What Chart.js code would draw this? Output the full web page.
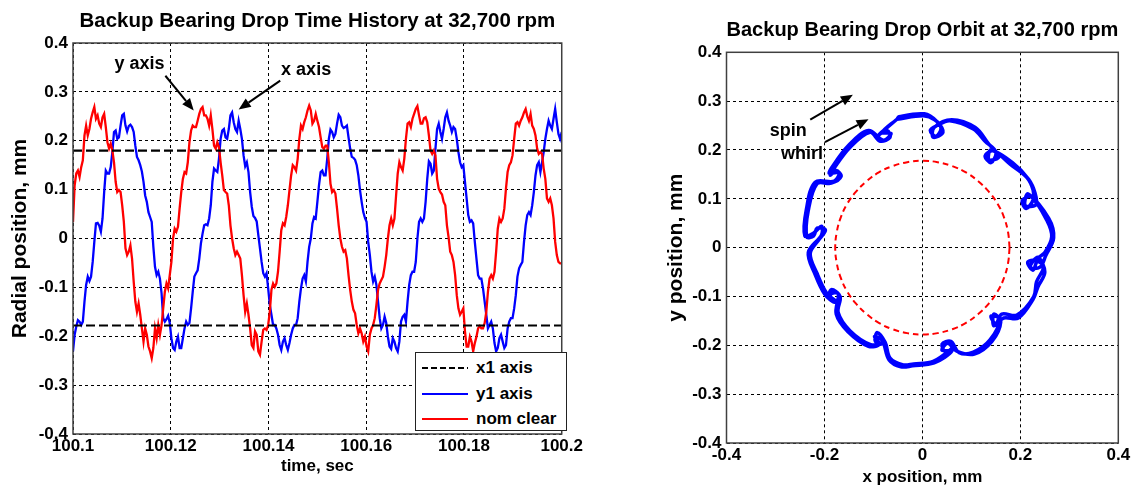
<!DOCTYPE html>
<html>
<head>
<meta charset="utf-8">
<title>Backup Bearing Drop</title>
<script src="https://cdn.jsdelivr.net/npm/chart.js@4.4.0/dist/chart.umd.min.js"></script>
<style>
  body { margin: 0; background: #fff; width: 1133px; height: 486px; overflow: hidden; position: relative;
         font-family: "Liberation Sans", Arial, sans-serif; }
  #timeChart { position: absolute; left: 0; top: 0; }
  #orbitChart { position: absolute; left: 600px; top: 0; }
  #legend { position: absolute; left: 415px; top: 352px; width: 152px; height: 79px; box-sizing: border-box;
            border: 1px solid #222; background: #fff; font-weight: bold; font-size: 17px; color: #000; }
  #legend .row { position: absolute; left: 6px; height: 20px; display: flex; align-items: center; }
  #legend svg { margin-right: 8px; }
</style>
</head>
<body>
<canvas id="timeChart" width="585" height="486"></canvas>
<canvas id="orbitChart" width="533" height="486"></canvas>
<div id="legend"></div>
<script>
// time window of the record, sec
const timeStart = 100.1;
const timeEnd = 100.2;
const timeTicks = [100.1, 100.12, 100.14, 100.16, 100.18, 100.2];
const radialTicks = [-0.4, -0.3, -0.2, -0.1, 0, 0.1, 0.2, 0.3, 0.4];
const orbitXTicks = [-0.4, -0.2, 0, 0.2, 0.4];

// nominal clearance, mm
const clearTop = 0.18;
const clearBottom = -0.178;

// x-axis probe (blue), mm, evenly sampled over the window
const xProbe = [
  -0.231,-0.197,-0.180,-0.167,-0.170,-0.177,-0.170,-0.129,-0.095,-0.078,
  -0.087,-0.078,-0.048,-0.007,0.031,0.032,0.026,0.014,0.041,0.095,
  0.139,0.133,0.133,0.146,0.177,0.218,0.221,0.204,0.207,0.231,
  0.252,0.255,0.231,0.219,0.230,0.233,0.228,0.218,0.190,0.167,
  0.160,0.150,0.137,0.116,0.088,0.075,0.054,0.044,0.034,-0.017,
  -0.058,-0.075,-0.068,-0.082,-0.112,-0.163,-0.170,-0.165,-0.158,-0.173,
  -0.204,-0.224,-0.228,-0.211,-0.201,-0.224,-0.224,-0.204,-0.184,-0.170,
  -0.177,-0.173,-0.143,-0.109,-0.078,-0.071,-0.065,-0.041,-0.010,0.010,
  0.027,0.029,0.027,0.041,0.068,0.116,0.143,0.139,0.136,0.163,
  0.204,0.221,0.224,0.207,0.204,0.224,0.252,0.258,0.238,0.224,
  0.218,
  0.241,0.224,0.204,0.170,0.148,0.156,0.136,0.095,0.065,0.046,
  0.042,0.035,0.007,-0.020,-0.048,-0.071,-0.078,-0.071,-0.102,-0.136,
  -0.156,-0.177,-0.177,-0.184,-0.197,-0.218,-0.228,-0.211,-0.204,-0.218,
  -0.228,-0.214,-0.197,-0.184,-0.177,-0.177,-0.163,-0.129,-0.102,-0.082,
  -0.075,-0.088,-0.048,-0.017,0.000,0.031,0.044,0.041,0.075,0.109,
  0.136,0.139,0.129,0.129,0.163,0.204,0.223,0.218,0.207,0.214,
  0.235,0.253,0.248,0.231,0.226,0.228,0.231,0.207,0.184,0.167,
  0.165,0.161,0.150,0.129,0.099,0.075,0.054,0.042,0.034,-0.007,
  -0.034,-0.068,-0.088,-0.078,-0.095,-0.129,-0.163,-0.184,-0.177,-0.160,
  -0.173,-0.201,-0.221,-0.226,-0.204,-0.211,-0.224,-0.231,-0.211,
  -0.170,-0.160,-0.156,-0.170,-0.129,-0.095,-0.075,-0.068,-0.068,-0.048,
  0.000,0.034,0.041,0.034,0.041,0.075,0.122,0.158,0.153,0.133,
  0.139,0.184,0.224,0.235,0.218,0.204,0.224,0.248,0.258,0.241,
  0.231,0.218,0.228,0.224,0.204,0.177,0.156,0.146,0.150,0.116,
  0.082,0.048,0.034,0.037,0.031,-0.007,-0.041,-0.075,-0.082,-0.082,
  -0.102,-0.129,-0.156,-0.184,-0.177,-0.170,-0.184,-0.214,-0.231,-0.224,
  -0.204,-0.197,-0.211,-0.224,-0.218,-0.184,-0.170,-0.163,-0.163,-0.143,
  -0.116,-0.078,-0.061,-0.054,-0.048,-0.007,0.027,0.048,0.054,0.048,
  0.068,0.095,0.129,0.150,0.156,0.136,0.156,0.177,0.204,0.224,
  0.241,0.231,0.224,0.245,0.265,0.238,0.214,0.204,0.218
];

// y-axis probe (red), mm, same samples
const yProbe = [
  0.034,0.109,0.133,0.139,0.126,0.146,0.160,0.211,0.231,0.211,
  0.224,0.245,0.258,0.269,0.245,0.252,0.235,0.228,0.248,0.255,
  0.228,0.197,0.184,0.194,0.180,0.156,0.116,0.095,0.099,0.095,
  0.068,0.034,-0.020,-0.034,-0.027,-0.014,-0.041,-0.088,-0.129,-0.150,
  -0.133,-0.156,-0.184,-0.211,-0.184,-0.197,-0.221,-0.231,-0.245,-0.224,
  -0.184,-0.204,-0.177,-0.197,-0.177,-0.143,-0.109,-0.092,-0.102,-0.075,
  -0.048,0.000,0.020,0.014,0.024,0.061,0.095,0.122,0.136,0.133,
  0.156,0.197,0.221,0.231,0.228,0.228,0.241,0.255,0.265,0.269,
  0.252,0.252,0.245,0.231,0.252,0.224,0.190,0.184,0.197,0.187,
  0.156,0.129,0.099,0.095,0.092,0.068,0.027,0.000,-0.020,-0.034,
  -0.027,
  -0.034,-0.041,-0.075,-0.116,-0.150,-0.133,-0.156,-0.184,-0.218,-0.224,
  -0.190,-0.197,-0.231,-0.238,-0.211,-0.187,-0.184,-0.187,-0.177,-0.150,
  -0.105,-0.092,-0.099,-0.092,-0.068,-0.027,0.017,0.031,0.027,0.044,
  0.068,0.099,0.129,0.150,0.146,0.139,0.163,0.204,0.231,0.224,
  0.238,0.248,0.262,0.272,0.262,0.235,0.241,0.255,0.241,0.228,
  0.207,0.187,0.184,0.190,0.190,0.156,0.112,0.095,0.099,0.092,
  0.061,0.027,0.000,-0.017,-0.027,-0.024,-0.041,-0.075,-0.105,-0.129,
  -0.146,-0.153,-0.177,-0.194,-0.184,-0.194,-0.211,-0.201,-0.221,-0.231,
  -0.197,-0.184,-0.177,-0.163,-0.136,-0.105,-0.092,-0.085,-0.078,-0.058,
  -0.034,0.000,0.027,0.041,0.027,0.041,0.088,0.133,0.156,
  0.146,0.139,0.163,0.204,0.235,0.238,0.228,0.245,0.255,0.265,
  0.271,0.252,0.235,0.235,0.246,0.248,0.238,0.211,0.180,0.173,
  0.180,0.170,0.122,0.102,0.095,0.090,0.075,0.068,0.027,0.003,
  -0.027,-0.034,-0.048,-0.075,-0.116,-0.143,-0.156,-0.150,-0.143,-0.190,
  -0.221,-0.221,-0.201,-0.211,-0.231,-0.214,-0.201,-0.184,-0.179,-0.184,
  -0.184,-0.173,-0.150,-0.109,-0.082,-0.075,-0.082,-0.068,-0.027,0.020,
  0.041,0.034,0.041,0.061,0.102,0.136,0.150,0.156,0.170,0.204,
  0.235,0.238,0.231,0.241,0.248,0.258,0.265,0.250,0.241,0.255,
  0.231,0.224,0.211,0.184,0.173,0.177,0.173,0.143,0.122,0.082,
  0.075,0.082,0.068,0.041,-0.007,-0.034,-0.048,-0.051,-0.051
];

// orbit, two turns, clockwise, mm
const orbitX = [
  -0.052,0.002,0.025,0.038,0.028,0.016,0.030,0.056,0.104,0.128,
  0.150,0.140,0.128,0.145,0.179,0.213,0.226,0.226,0.212,0.204,
  0.222,0.254,0.264,0.250,0.236,0.226,0.215,0.232,0.247,0.233,
  0.227,0.193,0.162,0.150,0.140,0.158,0.138,0.104,0.075,0.058,
  0.040,0.048,0.062,0.022,-0.018,-0.039,-0.066,-0.076,-0.092,-0.096,
  -0.080,-0.107,-0.148,-0.172,-0.168,-0.186,-0.190,-0.176,-0.195,-0.215,
  -0.229,-0.210,-0.198,-0.215,-0.222,-0.236,-0.233,-0.215,-0.186,-0.166,
  -0.176,-0.188,-0.182,-0.148,-0.107,-0.086,-0.066,-0.072,-0.088,-0.052,
  -0.048,0.004,0.030,0.042,0.022,0.024,0.060,0.108,0.134,0.156,
  0.136,0.140,0.184,0.217,0.230,0.232,0.210,0.216,0.258,0.268,
  0.252,0.240,0.220,0.236,0.250,0.236,0.226,0.196,0.166,0.146,
  0.146,0.160,0.142,0.106,0.070,0.052,0.040,0.060,0.024,-0.020,
  -0.044,-0.068,-0.082,-0.098,-0.088,-0.110,-0.152,-0.176,-0.172,-0.188,
  -0.180,-0.199,-0.219,-0.233,-0.206,-0.206,-0.222,-0.240,-0.237,-0.219,
  -0.180,-0.170,-0.190,-0.185,-0.151,-0.110,-0.080,-0.064,-0.082,-0.052
];
const orbitY = [
  0.263,0.270,0.262,0.245,0.228,0.240,0.250,0.260,0.243,0.218,
  0.196,0.174,0.188,0.198,0.171,0.144,0.118,0.098,0.080,0.096,
  0.104,0.056,0.022,-0.010,-0.022,-0.046,-0.030,-0.026,-0.040,-0.070,
  -0.101,-0.138,-0.136,-0.156,-0.140,-0.146,-0.189,-0.214,-0.215,-0.192,
  -0.198,-0.214,-0.205,-0.233,-0.238,-0.240,-0.226,-0.194,-0.174,-0.192,
  -0.196,-0.198,-0.170,-0.133,-0.100,-0.086,-0.104,-0.110,-0.094,-0.053,
  -0.012,0.018,0.036,0.040,0.024,0.022,0.076,0.131,0.132,0.146,
  0.158,0.148,0.160,0.205,0.236,0.218,0.226,0.240,0.232,0.263,
  0.268,0.274,0.258,0.236,0.226,0.246,0.262,0.246,0.214,0.186,
  0.180,0.200,0.174,0.140,0.112,0.088,0.086,0.110,0.060,0.020,
  -0.016,-0.040,-0.040,-0.020,-0.050,-0.080,-0.106,-0.144,-0.144,-0.160,
  -0.136,-0.152,-0.192,-0.218,-0.212,-0.196,-0.210,-0.212,-0.236,-0.242,
  -0.244,-0.230,-0.190,-0.182,-0.198,-0.202,-0.172,-0.136,-0.094,-0.096,
  -0.112,-0.096,-0.055,-0.010,0.026,0.044,0.030,0.024,0.078,0.134,
  0.136,0.154,0.152,0.164,0.209,0.240,0.220,0.234,0.236,0.263
];

// nominal clearance circle (r = 0.178 mm), every 10 degrees
const clearCircleX = [0.178,0.175,0.167,0.154,0.136,0.114,0.089,0.061,0.031,0,-0.031,-0.061,-0.089,-0.114,-0.136,-0.154,-0.167,-0.175,-0.178,
  -0.175,-0.167,-0.154,-0.136,-0.114,-0.089,-0.061,-0.031,0,0.031,0.061,0.089,0.114,0.136,0.154,0.167,0.175,0.178];
const clearCircleY = [0,0.031,0.061,0.089,0.114,0.136,0.154,0.167,0.175,0.178,0.175,0.167,0.154,0.136,0.114,0.089,0.061,0.031,0,
  -0.031,-0.061,-0.089,-0.114,-0.136,-0.154,-0.167,-0.175,-0.178,-0.175,-0.167,-0.154,-0.136,-0.114,-0.089,-0.061,-0.031,0];

const FONT = '"Liberation Sans", Arial, sans-serif';
const sampleTimes = xProbe.map((_, i) => timeStart + i * (timeEnd - timeStart) / (xProbe.length - 1));

function fmt(digits) {
  return v => String(+Number(v).toFixed(digits));
}

// box around the plot, text notes and arrows, in data coordinates
function decorPlugin(notes, arrows) {
  return {
    id: 'decor',
    afterDraw(chart) {
      const { ctx, chartArea: a, scales } = chart;
      const px = v => scales.x.getPixelForValue(v);
      const py = v => scales.y.getPixelForValue(v);
      ctx.save();
      ctx.strokeStyle = '#404040';
      ctx.lineWidth = 1.5;
      ctx.strokeRect(a.left, a.top, a.right - a.left, a.bottom - a.top);
      ctx.fillStyle = '#000';
      ctx.font = 'bold 18px ' + FONT;
      ctx.textAlign = 'center';
      ctx.textBaseline = 'middle';
      notes.forEach(n => ctx.fillText(n.text, px(n.x), py(n.y)));
      ctx.strokeStyle = '#000';
      ctx.lineWidth = 2;
      arrows.forEach(ar => {
        const x0 = px(ar.from[0]), y0 = py(ar.from[1]);
        const x1 = px(ar.to[0]), y1 = py(ar.to[1]);
        const ang = Math.atan2(y1 - y0, x1 - x0);
        const hl = 12, hw = 5;
        const bx = x1 - hl * Math.cos(ang), by = y1 - hl * Math.sin(ang);
        ctx.beginPath();
        ctx.moveTo(x0, y0);
        ctx.lineTo(bx, by);
        ctx.stroke();
        ctx.beginPath();
        ctx.moveTo(x1, y1);
        ctx.lineTo(bx + hw * Math.sin(ang), by - hw * Math.cos(ang));
        ctx.lineTo(bx - hw * Math.sin(ang), by + hw * Math.cos(ang));
        ctx.closePath();
        ctx.fill();
      });
      ctx.restore();
    }
  };
}

function axisStyle(tickList, digits, extra) {
  return Object.assign({
    type: 'linear',
    min: tickList[0],
    max: tickList[tickList.length - 1],
    afterBuildTicks: axis => { axis.ticks = tickList.map(v => ({ value: v })); },
    grid: { color: '#000', lineWidth: 1, drawTicks: false },
    border: { display: false, dash: [3, 3] }
  }, extra);
}

const tickFont = { family: FONT, size: 17, weight: 'bold' };
const titleFont = { family: FONT, size: 20.5, weight: 'bold' };

const timeChart = new Chart(document.getElementById('timeChart'), {
  type: 'line',
  data: {
    datasets: [
      { label: 'x1 axis', data: [{ x: timeStart, y: clearTop }, { x: timeEnd, y: clearTop }],
        borderColor: '#000', borderWidth: 2.2, borderDash: [9, 4], order: 0 },
      { label: 'y1 axis', data: xProbe.map((v, i) => ({ x: sampleTimes[i], y: v })),
        borderColor: '#0000ff', borderWidth: 2.3, order: 2 },
      { label: 'nom clear', data: yProbe.map((v, i) => ({ x: sampleTimes[i], y: v })),
        borderColor: '#ff0000', borderWidth: 2.3, order: 1 },
      { label: '', data: [{ x: timeStart, y: clearBottom }, { x: timeEnd, y: clearBottom }],
        borderColor: '#000', borderWidth: 2.2, borderDash: [9, 4], order: 0 }
    ]
  },
  options: {
    responsive: false,
    animation: false,
    devicePixelRatio: 1,
    elements: { point: { radius: 0 }, line: { tension: 0 } },
    layout: { padding: { left: 0, right: 15, top: 0, bottom: 0 } },
    plugins: {
      legend: { display: false },
      tooltip: { enabled: false },
      title: {
        display: true, fullSize: false, color: '#000',
        text: 'Backup Bearing Drop Time History at 32,700 rpm',
        font: titleFont,
        padding: { top: 9.3, bottom: 9.1 }
      }
    },
    scales: {
      x: axisStyle(timeTicks, 2, {
        afterFit: s => { s.height = 52; },
        ticks: { callback: fmt(2), color: '#000', padding: 2, maxRotation: 0, font: tickFont },
        title: { display: true, text: 'time, sec', color: '#000', font: tickFont, padding: { top: 0, bottom: 9.8 } }
      }),
      y: axisStyle(radialTicks, 1, {
        afterFit: s => { s.width = 73; },
        ticks: { callback: fmt(1), color: '#000', padding: 5, font: tickFont },
        title: { display: true, text: 'Radial position, mm', color: '#000', font: { family: FONT, size: 21, weight: 'bold' }, padding: { top: 7.4, bottom: 0 } }
      })
    }
  },
  plugins: [decorPlugin(
    [{ text: 'y axis', x: 100.1136, y: 0.356 }, { text: 'x axis', x: 100.1477, y: 0.345 }],
    [{ from: [100.1189, 0.333], to: [100.1247, 0.262] }, { from: [100.1424, 0.323], to: [100.1339, 0.264] }]
  )]
});

new Chart(document.getElementById('orbitChart'), {
  type: 'scatter',
  data: {
    datasets: [
      { label: 'orbit', data: orbitX.map((v, i) => ({ x: v, y: orbitY[i] })), showLine: true,
        borderColor: '#0000ff', borderWidth: 3.5, tension: 0.35 },
      { label: 'nom clear', data: clearCircleX.map((v, i) => ({ x: v, y: clearCircleY[i] })), showLine: true,
        borderColor: '#ff0000', borderWidth: 2, borderDash: [6, 4], tension: 0.4 }
    ]
  },
  options: {
    responsive: false,
    animation: false,
    devicePixelRatio: 1,
    elements: { point: { radius: 0 } },
    layout: { padding: { left: 56, right: 14.7, top: 0, bottom: 0 } },
    plugins: {
      legend: { display: false },
      tooltip: { enabled: false },
      title: {
        display: true, fullSize: false, color: '#000',
        text: 'Backup Bearing Drop Orbit at 32,700 rpm',
        font: titleFont,
        padding: { top: 17.7, bottom: 10 }
      }
    },
    scales: {
      x: axisStyle(orbitXTicks, 1, {
        afterFit: s => { s.height = 43; },
        ticks: { callback: fmt(1), color: '#000', padding: 2, maxRotation: 0, font: tickFont },
        title: { display: true, text: 'x position, mm', color: '#000', font: { family: FONT, size: 17, weight: 'bold', lineHeight: 1 }, padding: { top: 0, bottom: 0.5 } }
      }),
      y: axisStyle(radialTicks, 1, {
        afterFit: s => { s.width = 70.5; },
        ticks: { callback: fmt(1), color: '#000', padding: 5, font: tickFont },
        title: { display: true, text: 'y position, mm', color: '#000', font: { family: FONT, size: 21, weight: 'bold' }, padding: { top: 7.4, bottom: 0 } }
      })
    }
  },
  plugins: [decorPlugin(
    [{ text: 'spin', x: -0.274, y: 0.239 }, { text: 'whirl', x: -0.246, y: 0.192 }],
    [{ from: [-0.229, 0.262], to: [-0.142, 0.313] }, { from: [-0.199, 0.216], to: [-0.110, 0.263] }]
  )]
});

// legend box for the time history, built from the first three datasets
const legendBox = document.getElementById('legend');
timeChart.data.datasets.slice(0, 3).forEach((ds, i) => {
  const row = document.createElement('div');
  row.className = 'row';
  row.style.top = (5 + i * 25.5) + 'px';
  const dash = ds.borderDash ? ' stroke-dasharray="6,3"' : '';
  row.innerHTML = '<svg width="46" height="10"><line x1="0" y1="5" x2="46" y2="5" stroke="' + ds.borderColor +
    '" stroke-width="2"' + dash + '/></svg><span>' + ds.label + '</span>';
  legendBox.appendChild(row);
});
</script>
</body>
</html>
